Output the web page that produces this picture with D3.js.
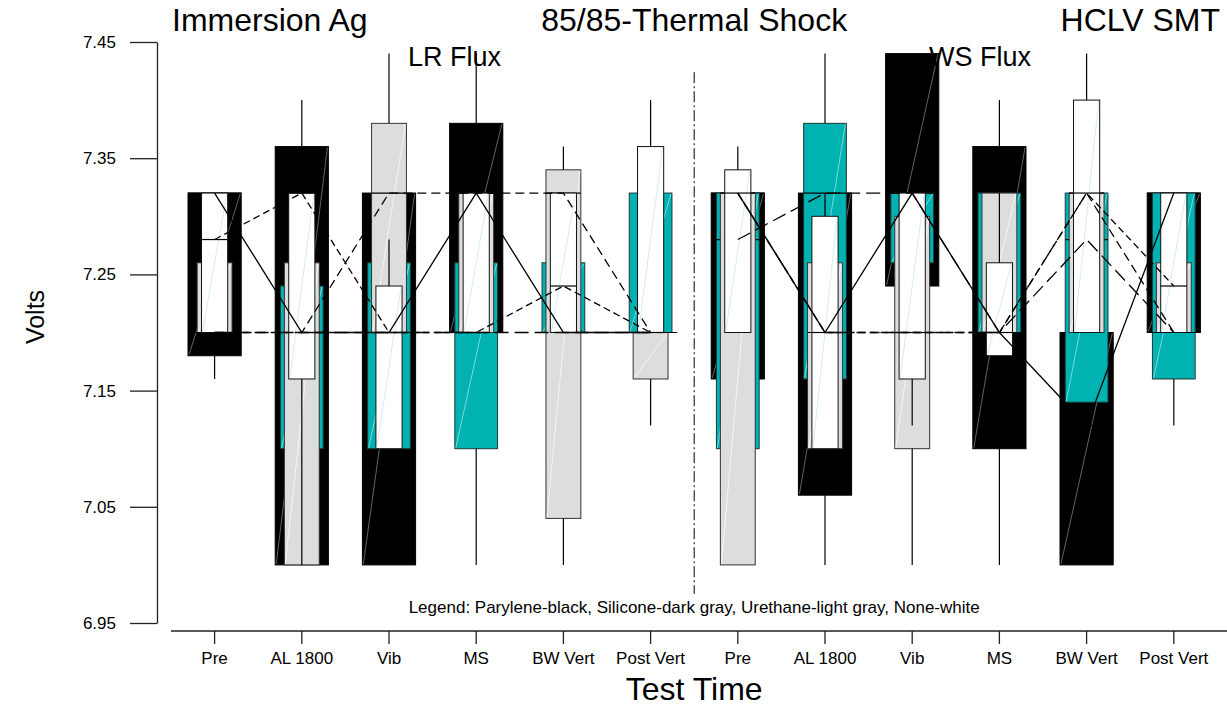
<!DOCTYPE html>
<html>
<head>
<meta charset="utf-8">
<script src="https://cdnjs.cloudflare.com/ajax/libs/d3/7.8.5/d3.min.js"></script>
<style>
  body { margin: 0; background: #fff; }
  svg { font-family: "Liberation Sans", Arial, sans-serif; }
</style>
</head>
<body>
<div id="chart"></div>
<script>
// test times, first six are LR flux, last six WS flux
var categories = ["Pre", "AL 1800", "Vib", "MS", "BW Vert", "Post Vert",
                  "Pre", "AL 1800", "Vib", "MS", "BW Vert", "Post Vert"];
var yTicks = [6.95, 7.05, 7.15, 7.25, 7.35, 7.45];

// [min, q1, median, q3, max] for each test time
var parylene = [
    [7.16, 7.18, 7.32, 7.32, 7.32], [7.00, 7.00, 7.20, 7.36, 7.40], [7.00, 7.00, 7.20, 7.32, 7.32],
    [7.20, 7.20, 7.32, 7.38, 7.44], [7.20, 7.20, 7.20, 7.20, 7.20], [7.20, 7.20, 7.20, 7.20, 7.20],
    [7.16, 7.16, 7.32, 7.32, 7.32], [7.00, 7.06, 7.20, 7.32, 7.32], [7.24, 7.24, 7.32, 7.44, 7.44],
    [7.00, 7.10, 7.20, 7.36, 7.40], [7.00, 7.00, 7.12, 7.20, 7.20], [7.20, 7.20, 7.32, 7.32, 7.32]
];
var silicone = [
    [7.20, 7.20, 7.20, 7.20, 7.20], [7.10, 7.10, 7.20, 7.24, 7.24], [7.10, 7.10, 7.20, 7.26, 7.26],
    [7.00, 7.10, 7.20, 7.26, 7.26], [7.20, 7.20, 7.20, 7.26, 7.26], [7.20, 7.20, 7.20, 7.32, 7.32],
    [7.10, 7.10, 7.28, 7.32, 7.32], [7.16, 7.16, 7.32, 7.38, 7.44], [7.26, 7.26, 7.32, 7.32, 7.32],
    [7.20, 7.20, 7.20, 7.32, 7.32], [7.14, 7.14, 7.28, 7.32, 7.32], [7.12, 7.16, 7.20, 7.32, 7.32]
];
var urethane = [
    [7.20, 7.20, 7.20, 7.26, 7.26], [7.00, 7.00, 7.20, 7.26, 7.26], [7.20, 7.20, 7.32, 7.38, 7.44],
    [7.20, 7.20, 7.32, 7.32, 7.32], [7.00, 7.04, 7.32, 7.34, 7.36], [7.12, 7.16, 7.20, 7.20, 7.20],
    [7.00, 7.00, 7.32, 7.32, 7.32], [7.10, 7.10, 7.20, 7.26, 7.26], [7.00, 7.10, 7.20, 7.30, 7.30],
    [7.20, 7.20, 7.20, 7.32, 7.32], [7.20, 7.20, 7.32, 7.32, 7.32], [7.20, 7.20, 7.20, 7.26, 7.26]
];
var none = [
    [7.20, 7.20, 7.28, 7.32, 7.32], [7.00, 7.16, 7.32, 7.32, 7.32], [7.10, 7.10, 7.20, 7.24, 7.28],
    [7.20, 7.20, 7.20, 7.32, 7.32], [7.20, 7.20, 7.24, 7.32, 7.32], [7.20, 7.20, 7.20, 7.36, 7.40],
    [7.20, 7.20, 7.32, 7.34, 7.36], [7.10, 7.10, 7.20, 7.30, 7.32], [7.12, 7.16, 7.20, 7.32, 7.32],
    [7.18, 7.18, 7.20, 7.26, 7.32], [7.20, 7.20, 7.32, 7.40, 7.44], [7.20, 7.20, 7.24, 7.32, 7.32]
];

var width = 1227, height = 713;

var svg = d3.select("#chart").append("svg")
    .attr("width", width)
    .attr("height", height);

var x = d3.scaleBand()
    .domain(d3.range(categories.length))
    .range([171, 1217.4])
    .padding(0);
var y = d3.scaleLinear()
    .domain([6.95, 7.45])
    .range([623, 42]);

function cx(i) { return x(i) + x.bandwidth() / 2; }

// widest box at the back, narrowest in front
var series = [
    {data: parylene, fill: "#000000", edge: "#000000", frac: 0.61, diag: "#8c8c8c", dash: null},
    {data: silicone, fill: "#00b2b2", edge: "#1c3a3a", frac: 0.49, diag: "#a6ecec", dash: "14,6"},
    {data: urethane, fill: "#dddddd", edge: "#333333", frac: 0.40, diag: "#ffffff", dash: "9,5"},
    {data: none,     fill: "#ffffff", edge: "#111111", frac: 0.30, diag: "#bfe6e6", dash: "7,4"}
];

function rows(data) {
    return data.map(function (d, i) {
        return {i: i, min: d[0], q1: d[1], med: d[2], q3: d[3], max: d[4]};
    });
}

series.forEach(function (s) {
    var w = x.bandwidth() * s.frac;
    var box = svg.append("g").selectAll("g")
        .data(rows(s.data))
        .enter().append("g");

    box.filter(function (d) { return d.q3 > d.q1; })
        .append("rect")
        .attr("x", function (d) { return cx(d.i) - w / 2; })
        .attr("y", function (d) { return y(d.q3); })
        .attr("width", w)
        .attr("height", function (d) { return y(d.q1) - y(d.q3); })
        .attr("fill", s.fill)
        .attr("stroke", s.edge)
        .attr("stroke-width", 1);

    // faint diagonal left by the original renderer
    box.filter(function (d) { return d.q3 > d.q1; })
        .append("line")
        .attr("x1", function (d) { return cx(d.i) - w / 2 + 1; })
        .attr("y1", function (d) { return y(d.q1) - 1; })
        .attr("x2", function (d) { return cx(d.i) + w / 2 - 1; })
        .attr("y2", function (d) { return y(d.q3) + 1; })
        .attr("stroke", s.diag)
        .attr("stroke-width", 0.7);

    box.append("line")
        .attr("x1", function (d) { return cx(d.i) - w / 2; })
        .attr("x2", function (d) { return cx(d.i) + w / 2; })
        .attr("y1", function (d) { return y(d.med); })
        .attr("y2", function (d) { return y(d.med); })
        .attr("stroke", "#000")
        .attr("stroke-width", 1.2);

    box.filter(function (d) { return d.max > d.q3; })
        .append("line")
        .attr("x1", function (d) { return cx(d.i); })
        .attr("x2", function (d) { return cx(d.i); })
        .attr("y1", function (d) { return y(d.q3); })
        .attr("y2", function (d) { return y(d.max); })
        .attr("stroke", "#000")
        .attr("stroke-width", 1.2);

    box.filter(function (d) { return d.min < d.q1; })
        .append("line")
        .attr("x1", function (d) { return cx(d.i); })
        .attr("x2", function (d) { return cx(d.i); })
        .attr("y1", function (d) { return y(d.q1); })
        .attr("y2", function (d) { return y(d.min); })
        .attr("stroke", "#000")
        .attr("stroke-width", 1.2);
});

// median lines, joined inside each flux group only
var medLine = d3.line()
    .x(function (d) { return cx(d.i); })
    .y(function (d) { return y(d.med); });

series.forEach(function (s) {
    var r = rows(s.data);
    [r.slice(0, 6), r.slice(6, 12)].forEach(function (part) {
        svg.append("path")
            .attr("d", medLine(part))
            .attr("fill", "none")
            .attr("stroke", "#000")
            .attr("stroke-width", 1.3)
            .attr("stroke-dasharray", s.dash);
    });
});

// divider between LR and WS
var midX = (cx(5) + cx(6)) / 2;
svg.append("line")
    .attr("x1", midX).attr("x2", midX)
    .attr("y1", y(7.424)).attr("y2", y(6.975))
    .attr("stroke", "#000")
    .attr("stroke-width", 1)
    .attr("stroke-dasharray", "11,3,2,3");

// axes
var yAxis = svg.append("g")
    .attr("transform", "translate(157,0)")
    .call(d3.axisLeft(y).tickValues(yTicks).tickFormat(d3.format(".2f"))
        .tickSize(27).tickSizeOuter(0).tickPadding(14));
yAxis.attr("font-family", null).attr("font-size", 17);
yAxis.selectAll("line, path").attr("stroke", "#222").attr("stroke-width", 1.3);

var xAxis = svg.append("g")
    .attr("transform", "translate(0,631)")
    .call(d3.axisBottom(x).tickFormat(function (i) { return categories[i]; })
        .tickSize(13).tickSizeOuter(0).tickPadding(8));
xAxis.attr("font-family", null).attr("font-size", 17);
xAxis.select(".domain").attr("d", "M171,0H1227");
xAxis.selectAll("line, path").attr("stroke", "#222").attr("stroke-width", 1.3);

// titles and labels
svg.append("text").attr("x", 172).attr("y", 31)
    .style("font-size", "32px").text("Immersion Ag");
svg.append("text").attr("x", midX).attr("y", 31)
    .attr("text-anchor", "middle")
    .style("font-size", "32px").text("85/85-Thermal Shock");
svg.append("text").attr("x", 1220).attr("y", 31)
    .attr("text-anchor", "end")
    .style("font-size", "32px").text("HCLV SMT");

svg.append("text").attr("x", 408).attr("y", 66)
    .style("font-size", "27px").text("LR Flux");
svg.append("text").attr("x", 929).attr("y", 66)
    .style("font-size", "27px").text("WS Flux");

svg.append("text").attr("x", midX).attr("y", 613)
    .attr("text-anchor", "middle")
    .style("font-size", "17px")
    .text("Legend: Parylene-black, Silicone-dark gray, Urethane-light gray, None-white");

svg.append("text").attr("x", midX).attr("y", 700)
    .attr("text-anchor", "middle")
    .style("font-size", "32px").text("Test Time");

svg.append("text")
    .attr("transform", "translate(44,317) rotate(-90)")
    .attr("text-anchor", "middle")
    .style("font-size", "25px").text("Volts");
</script>
</body>
</html>
